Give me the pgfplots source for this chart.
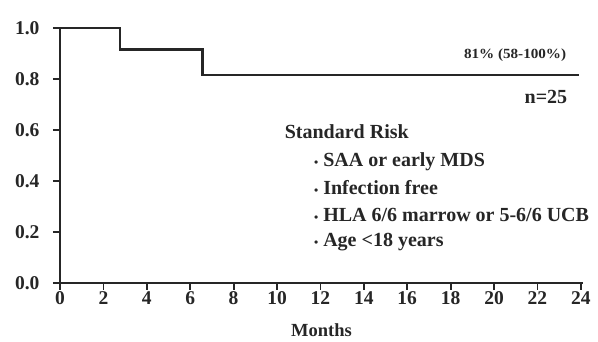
\documentclass[border=0pt]{standalone}
\usepackage{fontspec}
\setmainfont{Liberation Serif}
\usepackage{pgfplots}
\pgfplotsset{compat=1.18}
\begin{document}
\begin{tikzpicture}[x=1pt,y=1pt]
\useasboundingbox (-60,-59) rectangle (538,283);
\begin{axis}[
  scale only axis, width=523pt, height=255pt,
  at={(0,0)}, anchor=south west,
  xmin=0, xmax=24.1, ymin=0, ymax=1,
  axis lines=left, axis line style={-, line width=2.2pt, black!85},
  clip=false,
  xtick={0,2,...,24}, ytick={0,0.2,...,1.0},
  /pgf/number format/fixed, /pgf/number format/fixed zerofill, /pgf/number format/precision=1,
  tick style={line width=1.8pt, black!85},
  major tick length=7pt,
  xtick align=outside, ytick align=outside,
  /pgf/number format/assume math mode=true,
  ticklabel style={font=\fontsize{19.5}{21}\selectfont\bfseries, text=black!85},
  yticklabel style={xshift=-10pt},
  xticklabel style={yshift=2pt},
  xticklabel={\pgfmathprintnumber[fixed, precision=0]{\tick}},
  xlabel={Months}, xlabel style={font=\fontsize{18.5}{20}\selectfont\bfseries, text=black!85, at={(axis description cs:0.5,0)}, anchor=center, yshift=-47pt},
]
\addplot[const plot, line width=2.4pt, black!85] coordinates {
(0,1.0) (2.76,1.0) (2.76,0.916) (6.57,0.916) (6.57,0.815) (23.9,0.815)};
\node[font=\fontsize{14}{16}\selectfont\bfseries, xscale=1.08, text=black!85] at (axis cs:20.97,0.894) {81\% (58-100\%)};
\node[font=\fontsize{20}{22}\selectfont\bfseries, text=black!85] at (axis cs:22.39,0.729) {n=25};
\node[anchor=west, font=\fontsize{20}{22}\selectfont\bfseries, text=black!85, inner sep=0pt] at (axis cs:10.35,0.592) {Standard Risk};
\node[anchor=west, font=\fontsize{20}{22}\selectfont\bfseries, text=black!85, inner sep=0pt] at (axis cs:11.7,0.475) {{\fontsize{12}{12}\selectfont•} SAA or early MDS};
\node[anchor=west, font=\fontsize{20}{22}\selectfont\bfseries, text=black!85, inner sep=0pt] at (axis cs:11.7,0.373) {{\fontsize{12}{12}\selectfont•} Infection free};
\node[anchor=west, font=\fontsize{20}{22}\selectfont\bfseries, text=black!85, inner sep=0pt] at (axis cs:11.7,0.267) {{\fontsize{12}{12}\selectfont•} HLA 6/6 marrow or 5-6/6 UCB};
\node[anchor=west, font=\fontsize{20}{22}\selectfont\bfseries, text=black!85, inner sep=0pt] at (axis cs:11.7,0.161) {{\fontsize{12}{12}\selectfont•} Age <18 years};
\end{axis}
\end{tikzpicture}
\end{document}
